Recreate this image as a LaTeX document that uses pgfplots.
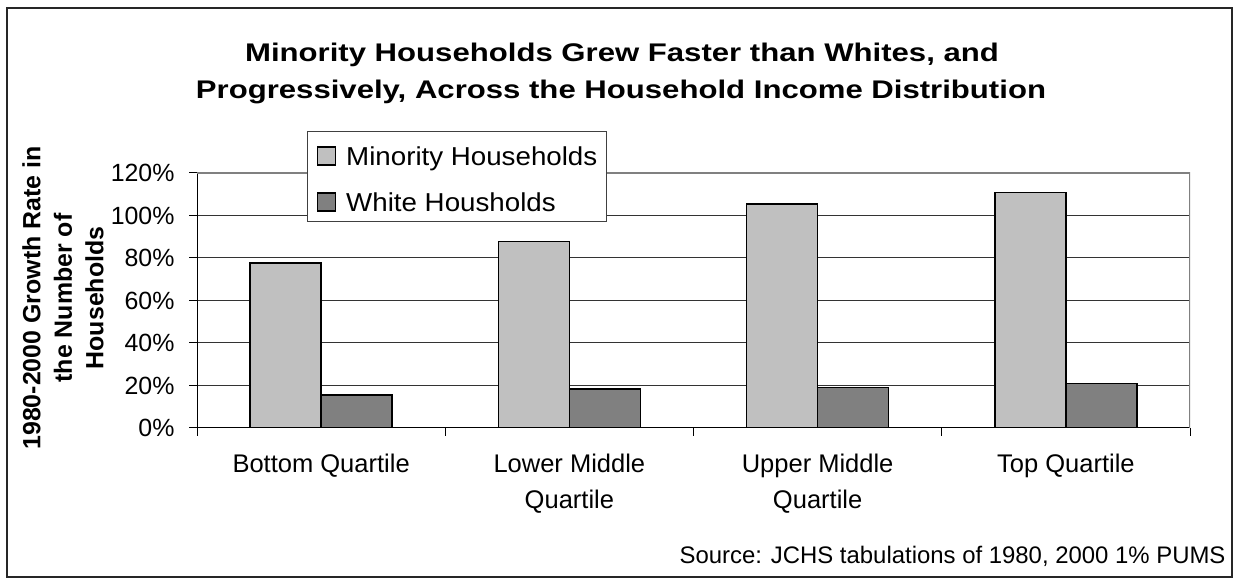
\documentclass[border=0pt]{standalone}
\usepackage{pgfplots}
\pgfplotsset{compat=1.18}
\usepackage{fontspec}
\setmainfont{Liberation Sans}
\newfontfamily\titlefont[FakeStretch=1.22]{Liberation Sans Bold}
\newfontfamily\legfont[FakeStretch=1.07]{Liberation Sans}
\definecolor{minor}{HTML}{C0C0C0}
\definecolor{whiteh}{HTML}{808080}
\begin{document}
\begin{tikzpicture}[x=1bp,y=1bp]
\useasboundingbox (0,0) rectangle (1235,584);
\draw[line width=2bp, black!85] (7,7) rectangle (1232,576);
\node[font=\titlefont\fontsize{25.6}{36}\selectfont, anchor=base] at (622,522.3) {Minority Households Grew Faster than Whites, and};
\node[font=\titlefont\fontsize{25.6}{36}\selectfont, anchor=base] at (621,485.7) {Progressively, Across the Household Income Distribution};
\node[rotate=90, font=\bfseries\fontsize{25}{31.7}\selectfont, align=center] at (63,286) {1980-2000 Growth Rate in\\the Number of\\Households};
\node[anchor=east, font=\fontsize{24}{28}\selectfont] at (1229,28) {Source: JCHS tabulations of 1980, 2000 1\% PUMS};
\begin{axis}[
  at={(197bp,156bp)}, anchor=south west, scale only axis,
  width=993bp, height=255bp,
  ymin=0, ymax=120, ytick={0,20,...,120},
  yticklabel={\pgfmathprintnumber{\tick}\%},
  yticklabel style={xshift=-11bp, font=\fontsize{25}{30}\selectfont},
  xmin=-0.5, xmax=3.5,
  xtick={-0.5,0.5,1.5,2.5,3.5}, xticklabels={},
  extra x ticks={0,1,2,3},
  extra x tick labels={Bottom Quartile, Lower Middle\\Quartile, Upper Middle\\Quartile, Top Quartile},
  extra x tick style={major tick length=0pt, xticklabel style={align=center, anchor=north, inner sep=0pt, yshift=-26bp, font=\fontsize{25.6}{36}\selectfont}},
  axis x line*=bottom, axis y line*=left,
  tick align=outside, major tick length=8bp,
  tick style={black, line width=1bp},
  axis line style={black, line width=1bp},
  ymajorgrids, major grid style={black!80, line width=1bp},
  /pgf/number format/assume math mode=true,
  ybar=0pt, bar width=71bp,
  legend style={at={(0.1111,1.1647)}, anchor=north west, draw=black!75, line width=1bp, fill=white,
    font=\legfont\fontsize{26}{30}\selectfont, cells={anchor=base west}, row sep=2bp, column sep=10bp,
    inner xsep=9bp, inner ysep=0bp,
    nodes={inner xsep=0bp, inner ysep=0bp, text height=34bp, text depth=10bp}},
  legend image code/.code={\draw[#1, line width=1.4bp] (0bp,0.3bp) rectangle (18bp,18.3bp);},
]
\addplot[fill=minor, draw=black, line width=1.6bp] coordinates {(0,77.6) (1,87.8) (2,105.4) (3,110.9)};
\addplot[fill=whiteh, draw=black, line width=1.6bp] coordinates {(0,15.4) (1,18.4) (2,19.1) (3,21.0)};
\legend{Minority Households, White Housholds}
\draw[black!50, line width=1.2bp] (rel axis cs:0,1) -- (rel axis cs:1,1) -- (rel axis cs:1,0);
\end{axis}
\end{tikzpicture}
\end{document}
